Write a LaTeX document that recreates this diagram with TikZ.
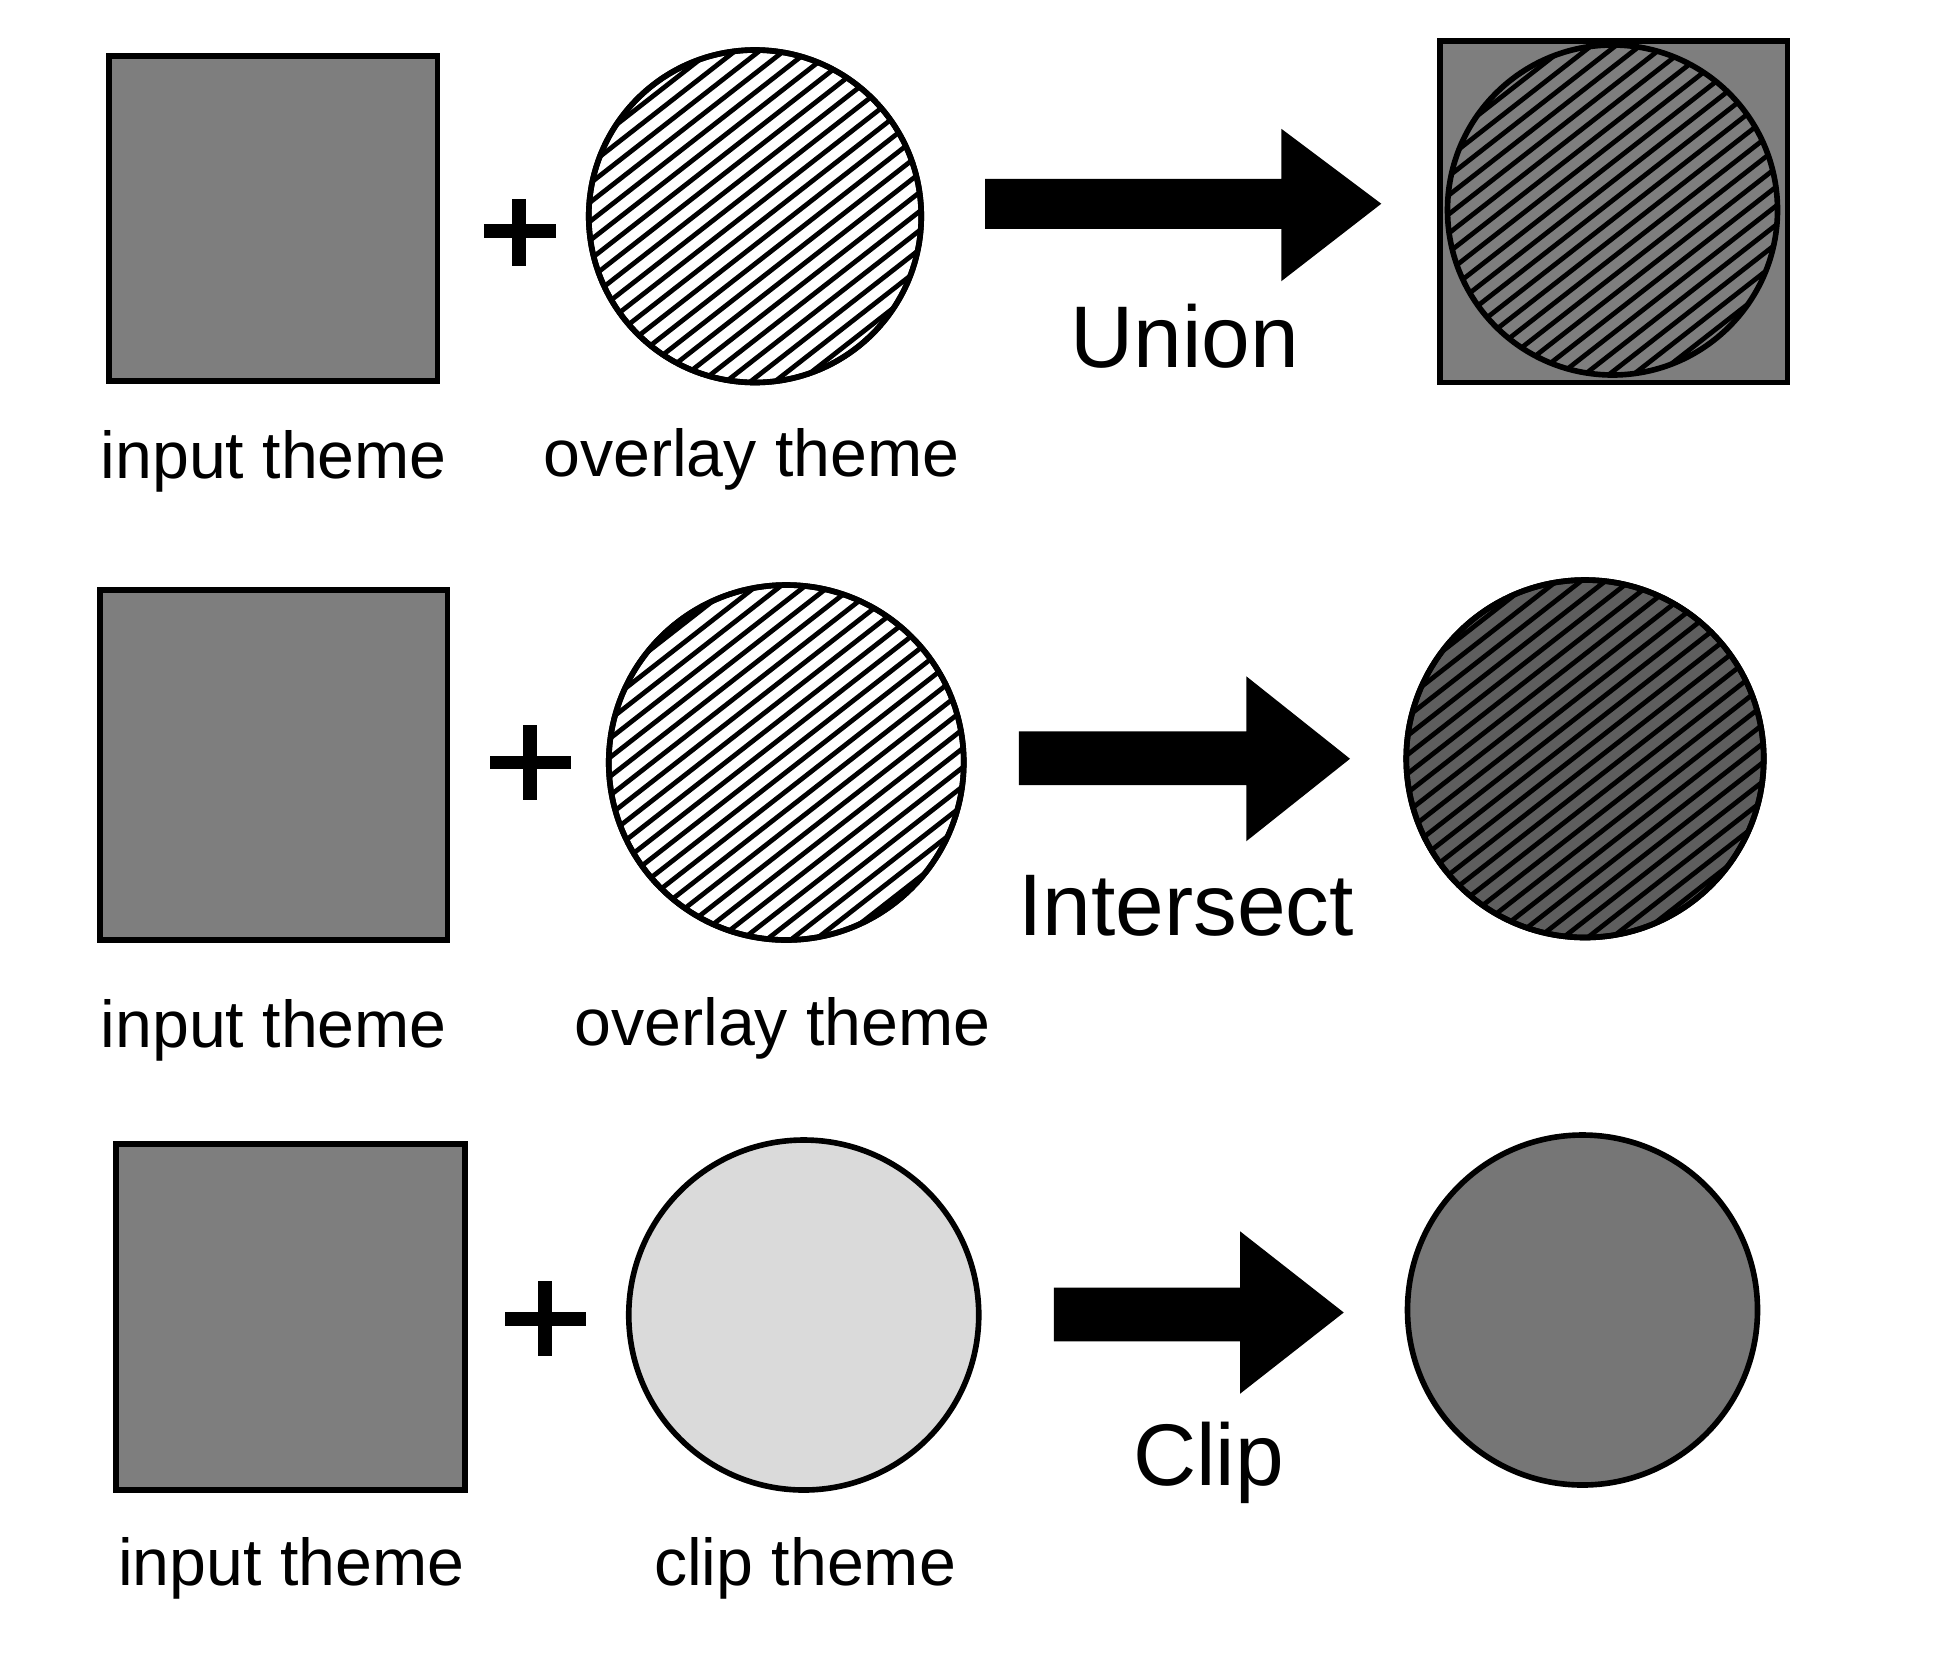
\documentclass[tikz,border=0pt]{standalone}
\usepackage{fontspec}
\setmainfont{Liberation Sans}
\definecolor{sqgrey}{HTML}{7E7E7E}
\definecolor{intgrey}{HTML}{5E5E5E}
\definecolor{clipgrey}{HTML}{DADADA}
\definecolor{resgrey}{HTML}{767676}
\tikzset{
  outline/.style={draw=black, line width=4.5pt},
  theme/.style={outline, fill=sqgrey, inner sep=0pt, minimum width=#1, minimum height=#1},
  disc/.style={outline, circle, inner sep=0pt, minimum size=#1},
  lbl/.style={font=\fontsize{53}{60}\selectfont, anchor=base, inner sep=0pt},
  oplbl/.style={font=\fontsize{70}{80}\selectfont, anchor=base, inner sep=0pt},
  plusarm/.style={line width=11pt},
  blockarrow/.style={fill=black},
  hatchline/.style={line width=3.8pt}
}
\newcommand{\hatchdisc}[3]{% cx, cy, r
  \begin{scope}[shift={(#1,#2)}, rotate=38]
    \clip (0,0) circle (#3);
    \foreach \d in {-162,-150,...,162} \draw[hatchline] (-170,\d) -- (170,\d);
  \end{scope}}
\begin{document}
\begin{tikzpicture}[x=1pt, y=-1pt]
\useasboundingbox (0,0) rectangle (1560,1334);
\fill[white] (0,0) rectangle (1560,1334);

% ---------- Row 1: Union ----------
\node[theme=260pt, minimum width=263pt] (in1) at (218.5,175) {};
\draw[plusarm] (387,185) -- (445,185);
\draw[plusarm] (415,159) -- (415,213);
\node[disc=266pt] (ov1) at (604,173) {};
\hatchdisc{604}{173}{133}
\draw[outline] (ov1.center) circle (133);
\fill[blockarrow] (788,143) -- (1025,143) -- (1025,103) -- (1105,163) -- (1025,225) -- (1025,183) -- (788,183) -- cycle;
\node[oplbl] (union) at (948,294) {Union};
\node[theme=273pt, minimum width=278pt] (res1) at (1291,169.5) {};
\fill[sqgrey] (1290,168) circle (132);
\hatchdisc{1290}{168}{132}
\draw[outline] (1290,168) circle (132);
\node[lbl] (l1a) at (219,383) {input theme};
\node[lbl] (l1b) at (601,381) {overlay theme};

% ---------- Row 2: Intersect ----------
\node[theme=280pt, minimum width=278pt] (in2) at (219,612) {};
\draw[plusarm] (392,610) -- (457,610);
\draw[plusarm] (424,580) -- (424,640);
\node[disc=284pt] (ov2) at (629,610) {};
\hatchdisc{629}{610}{142}
\draw[outline] (629,610) circle (142);
\fill[blockarrow] (815,585) -- (997,585) -- (997,541) -- (1080,607) -- (997,673) -- (997,628) -- (815,628) -- cycle;
\node[oplbl] (inter) at (949,748) {Intersect};
\node[disc=286pt, fill=intgrey] (res2) at (1268,607) {};
\hatchdisc{1268}{607}{143}
\draw[outline] (1268,607) circle (143);
\node[lbl] (l2a) at (219,838) {input theme};
\node[lbl] (l2b) at (626,836) {overlay theme};

% ---------- Row 3: Clip ----------
\node[theme=277pt, minimum width=279pt] (in3) at (232.5,1053.5) {};
\draw[plusarm] (404,1055) -- (469,1055);
\draw[plusarm] (436,1025) -- (436,1085);
\node[disc=280pt, fill=clipgrey] (cl3) at (643,1052) {};
\fill[blockarrow] (843,1030) -- (992,1030) -- (992,985) -- (1075,1050) -- (992,1115) -- (992,1073) -- (843,1073) -- cycle;
\node[oplbl] (clip) at (967,1188) {Clip};
\node[disc=280pt, fill=resgrey] (res3) at (1266,1048) {};
\node[lbl] (l3a) at (233,1268) {input theme};
\node[lbl] (l3b) at (644,1268) {clip theme};
\end{tikzpicture}
\end{document}
